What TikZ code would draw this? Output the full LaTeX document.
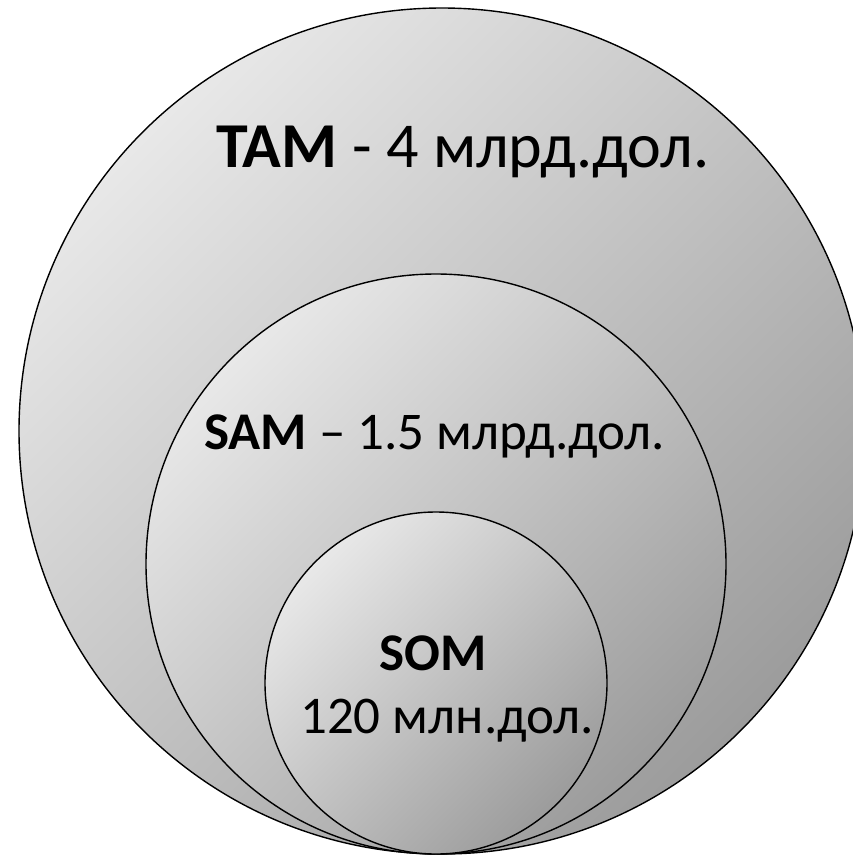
\documentclass[tikz,border=0pt]{standalone}
\usepackage{fontspec}
\setmainfont{Carlito}
\definecolor{cLight}{HTML}{E8E8E8}
\definecolor{cMid}{HTML}{D3D3D3}
\definecolor{cDark}{HTML}{9C9C9C}
\tikzset{
  market/.style={circle, draw=black, line width=1.4pt, inner sep=0pt,
    top color=cLight, middle color=cMid, bottom color=cDark, shading angle=45},
  lbl/.style={inner sep=0pt, anchor=base west, text=black}
}
\begin{document}
\begin{tikzpicture}[x=1pt,y=-1pt]
\useasboundingbox (0,0) rectangle (853,857);
\clip (0,0) rectangle (853,857);
\node[market, minimum size=846pt] (tam) at (442,431) {};
\node[market, minimum size=580pt] (sam) at (436,564) {};
\node[market, minimum size=342pt] (som) at (436,683) {};
\node[lbl, font=\fontsize{64}{70}\selectfont] (tamlbl) at (216,167) {\textbf{TAM} - 4 млрд.дол.};
\node[lbl, font=\fontsize{53}{58}\selectfont] (samlbl) at (204,449) {\textbf{SAM} – 1.5 млрд.дол.};
\node[lbl, font=\fontsize{53}{58}\selectfont] (somlbl) at (379,670) {\textbf{SOM}};
\node[lbl, font=\fontsize{53}{58}\selectfont] (somval) at (300,733) {120 млн.дол.};
\end{tikzpicture}
\end{document}
